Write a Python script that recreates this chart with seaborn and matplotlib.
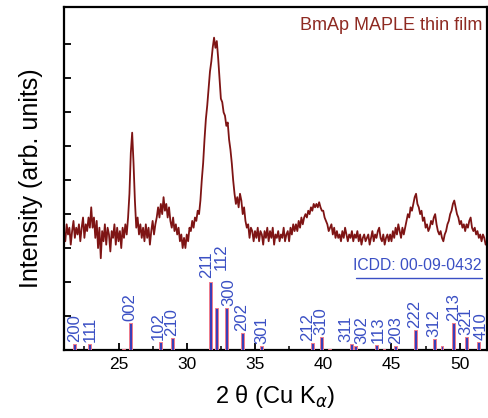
import numpy as np
import pandas as pd
import matplotlib
matplotlib.use("Agg")
import matplotlib.pyplot as plt
import seaborn as sns

two_theta = np.round(np.arange(21.0, 52.05, 0.1), 1)
intensity = [
    3.5, 3.2, 3.7, 3.4, 3.6, 3.1, 3.5, 3.8, 3.3, 3.6,   # 21
    3.4, 3.7, 3.2, 3.6, 3.9, 3.3, 3.7, 3.5, 3.9, 3.6,   # 22
    4.2, 3.6, 3.9, 3.3, 3.8, 3.0, 3.6, 2.7, 3.5, 3.2,   # 23
    3.7, 3.1, 3.6, 3.4, 2.9, 3.5, 3.3, 3.7, 3.1, 3.6,   # 24
    3.2, 3.5, 3.0, 3.6, 3.3, 3.7, 3.4, 3.9, 4.6, 5.8,   # 25
    6.4, 5.5, 4.4, 3.6, 3.9, 3.4, 3.7, 3.3, 3.6, 3.2,   # 26
    3.7, 3.3, 3.6, 3.1, 3.5, 3.8, 3.4, 3.7, 3.9, 4.2,   # 27
    3.9, 4.3, 4.0, 4.5, 4.1, 4.3, 3.9, 4.2, 3.8, 3.6,   # 28
    3.9, 3.5, 3.7, 3.4, 3.6, 3.2, 3.4, 3.0, 3.3, 3.0,   # 29
    3.4, 3.2, 3.6, 3.5, 3.8, 3.6, 3.9, 3.8, 4.1, 4.0,   # 30
    4.4, 5.0, 5.5, 6.2, 6.8, 7.2, 7.7, 8.2, 8.5, 8.9,   # 31
    9.2, 8.9, 9.1, 8.6, 8.0, 7.4, 7.3, 7.0, 6.9, 6.6,   # 32
    6.7, 6.2, 5.9, 5.5, 5.0, 4.6, 4.3, 4.5, 4.2, 4.6,   # 33
    4.4, 4.0, 4.2, 3.8, 3.6, 3.7, 3.3, 3.6, 3.5, 3.2,   # 34
    3.5, 3.3, 3.6, 3.2, 3.5, 3.4, 3.1, 3.5, 3.3, 3.6,   # 35
    3.2, 3.5, 3.3, 3.6, 3.1, 3.4, 3.3, 3.5, 3.2, 3.4,   # 36
    3.3, 3.6, 3.2, 3.4, 3.5, 3.2, 3.6, 3.4, 3.7, 3.5,   # 37
    3.7, 3.5, 3.8, 3.6, 3.9, 3.7, 3.9, 4.0, 3.9, 4.1,   # 38
    4.0, 4.2, 4.1, 4.3, 4.2, 4.3, 4.2, 4.35, 4.2, 4.1,  # 39
    4.1, 3.9, 3.8, 3.7, 3.5, 3.6, 3.7, 3.4, 3.6, 3.3,   # 40
    3.5, 3.3, 3.4, 3.2, 3.5, 3.3, 3.6, 3.4, 3.2, 3.4,   # 41
    3.3, 3.5, 3.2, 3.4, 3.3, 3.5, 3.2, 3.4, 3.1, 3.3,   # 42
    3.4, 3.2, 3.3, 3.4, 3.1, 3.3, 3.5, 3.2, 3.4, 3.3,   # 43
    3.5, 3.6, 3.3, 3.2, 3.4, 3.1, 3.3, 3.4, 3.2, 3.4,   # 44
    3.2, 3.5, 3.3, 3.6, 3.4, 3.7, 3.5, 3.3, 3.6, 3.4,   # 45
    3.6, 3.8, 4.0, 3.9, 4.2, 4.1, 4.3, 4.5, 4.6, 4.3,   # 46
    4.2, 4.0, 4.1, 3.8, 3.9, 3.6, 3.7, 3.5, 3.6, 3.8,   # 47
    3.7, 3.9, 4.0, 3.7, 3.5, 3.4, 3.5, 3.3, 3.2, 3.4,   # 48
    3.5, 3.7, 3.8, 4.0, 4.1, 4.3, 4.4, 4.2, 4.0, 3.9,   # 49
    3.7, 3.8, 3.6, 3.7, 3.5, 3.7, 3.6, 3.8, 3.9, 3.6,   # 50
    3.5, 3.6, 3.4, 3.5, 3.3, 3.4, 3.2, 3.4, 3.3, 3.1,   # 51
    3.2,                                                # 52
]
assert len(intensity) == len(two_theta)

# --- ICDD 00-09-0432 reference lines ---
hkl = ["200", "111", "002", "102", "210", "211", "112", "300", "202", "301",
       "212", "310", "311", "302", "113", "203", "222", "312", "213", "321", "410"]
hkl_pos = [21.75, 22.85, 25.86, 28.08, 28.92, 31.77, 32.20, 32.90, 34.05, 35.48,
           39.22, 39.84, 42.05, 42.35, 43.88, 45.32, 46.73, 48.12, 49.52, 50.52, 51.35]
hkl_int = [0.18, 0.18, 0.80, 0.24, 0.35, 2.00, 1.24, 1.24, 0.50, 0.10,
           0.20, 0.38, 0.18, 0.10, 0.15, 0.10, 0.60, 0.32, 0.80, 0.38, 0.24]
# weak lines without index labels
extra_pos = [25.35, 40.47, 44.45, 48.70]
extra_int = [0.04, 0.04, 0.04, 0.12]

curve_color = "#7e1414"
blue = "#3a4fc4"

sns.set_style("ticks", {"axes.edgecolor": "black", "text.color": "black",
                        "axes.labelcolor": "black", "xtick.color": "black",
                        "ytick.color": "black"})
plt.rcParams["font.family"] = ["Liberation Sans", "DejaVu Sans"]
plt.rcParams["mathtext.fontset"] = "dejavusans"

fig = plt.figure(figsize=(4.88, 4.18), dpi=100)
ax = fig.add_axes([0.131, 0.163, 0.867, 0.820])

df = pd.DataFrame({"two_theta": two_theta, "intensity": intensity})
sns.lineplot(data=df, x="two_theta", y="intensity", color=curve_color,
             linewidth=1.3, ax=ax)

ax.bar(hkl_pos, hkl_int, width=0.22, color="#3a3fb8", edgecolor="#f07a8a",
       linewidth=0.7, zorder=3)
ax.bar(extra_pos, extra_int, width=0.18, color="#3a3fb8", edgecolor="#f07a8a",
       linewidth=0.7, zorder=3)

# crowded labels are nudged sideways / upward as in the original
label_dx = {"211": -0.35, "112": 0.3, "300": 0.15, "212": -0.4,
            "311": -0.4, "302": 0.5, "113": 0.12, "410": 0.22, "321": -0.05,
            "111": 0.1, "102": -0.15}
label_y = {"211": 2.12, "112": 2.35}
for lab, xp, h in zip(hkl, hkl_pos, hkl_int):
    y0 = label_y.get(lab, max(h, 0.12) + 0.05)
    ax.text(xp + label_dx.get(lab, 0.0), y0, lab, rotation=90, ha="center",
            va="bottom", color=blue, fontsize=12)

ax.text(0.989, 0.971, "BmAp MAPLE thin film", transform=ax.transAxes,
        ha="right", va="top", color="#8e2a22", fontsize=13)
ax.text(0.988, 0.225, "ICDD: 00-09-0432", transform=ax.transAxes,
        ha="right", va="bottom", color=blue, fontsize=11.3)
ax.plot([0.690, 0.988], [0.211, 0.211], transform=ax.transAxes,
        color=blue, linewidth=1.0)

ax.set_xlim(21.0, 52.0)
ax.set_ylim(0, 10.1)
ax.set_xticks([25, 30, 35, 40, 45, 50])
ax.set_xticks([22.5, 27.5, 32.5, 37.5, 42.5, 47.5], minor=True)
ax.set_yticks(np.arange(1, 10))
ax.set_yticklabels([])
ax.tick_params(axis="both", which="major", direction="in", length=5, width=1.3,
               labelsize=12.5, pad=5, colors="black")
ax.tick_params(axis="x", which="minor", direction="in", length=3, width=1.1)

for side in ["left", "right", "top", "bottom"]:
    ax.spines[side].set_visible(True)
    ax.spines[side].set_linewidth(1.6)
    ax.spines[side].set_color("black")

ax.set_xlabel("2 θ (Cu K$_{\\alpha}$)", fontsize=17, labelpad=8, color="black")
ax.set_ylabel("Intensity (arb. units)", fontsize=18, labelpad=10, color="black")

fig.savefig("out.png", dpi=100)
